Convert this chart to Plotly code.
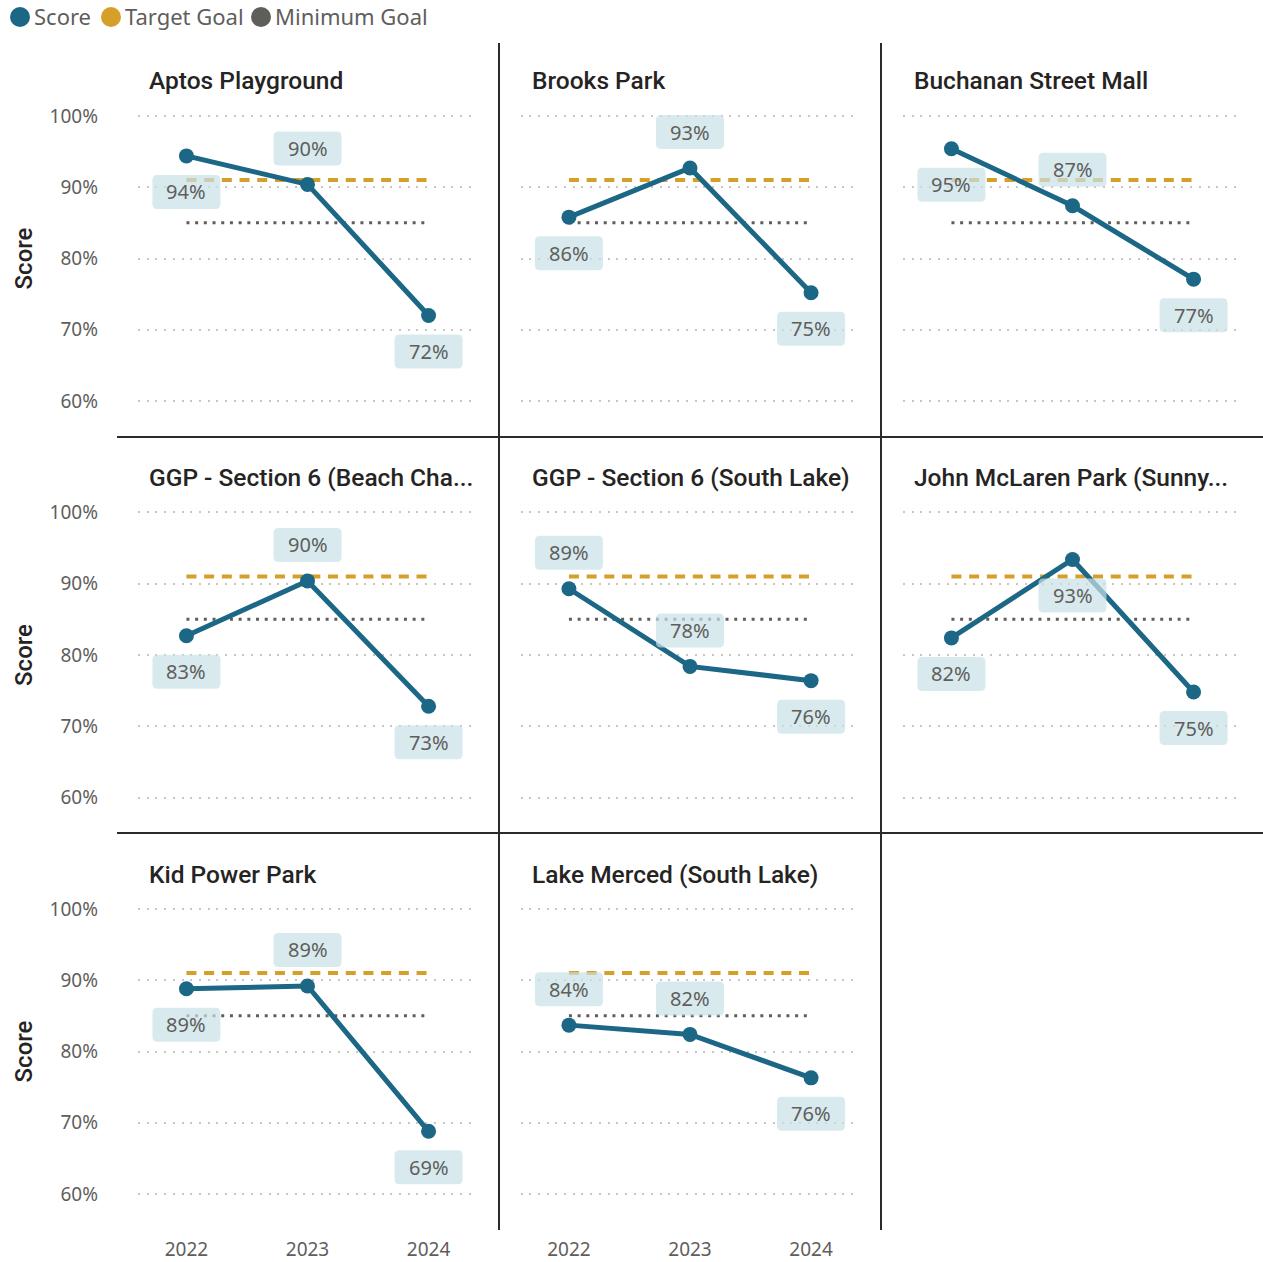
import plotly.graph_objects as go

# ---- data -------------------------------------------------------------
years = ["2022", "2023", "2024"]
park_titles = [
    "Aptos Playground",
    "Brooks Park",
    "Buchanan Street Mall",
    "GGP - Section 6 (Beach Cha...",
    "GGP - Section 6 (South Lake)",
    "John McLaren Park (Sunny...",
    "Kid Power Park",
    "Lake Merced (South Lake)",
]
aptos_playground = [0.944, 0.904, 0.720]
brooks_park = [0.858, 0.927, 0.752]
buchanan_street_mall = [0.954, 0.874, 0.771]
ggp_beach_chalet = [0.827, 0.904, 0.728]
ggp_south_lake = [0.893, 0.784, 0.764]
john_mclaren_park = [0.824, 0.934, 0.748]
kid_power_park = [0.888, 0.892, 0.688]
lake_merced = [0.837, 0.824, 0.763]
target_goal = 0.91
minimum_goal = 0.85
legend_names = ["Score", "Target Goal", "Minimum Goal"]

scores = [aptos_playground, brooks_park, buchanan_street_mall, ggp_beach_chalet,
          ggp_south_lake, john_mclaren_park, kid_power_park, lake_merced]

# data label side per point: +1 above the marker, -1 below
label_side = [
    [-1, 1, -1], [-1, 1, -1], [-1, 1, -1], [-1, 1, -1],
    [1, 1, -1], [-1, -1, -1], [-1, 1, -1], [1, 1, -1],
]

# ---- styling ----------------------------------------------------------
W, H = 1263, 1262
SCORE_C = "#1C6785"
TARGET_C = "#D59F2A"
MIN_C = "#5F5E5A"
GRID_C = "#C8C6C4"
TEXT_C = "#605E5C"
DARK_C = "#252423"
BODY_FONT = "Segoe UI, Noto Sans, sans-serif"
HEAD_FONT = "Roboto, DejaVu Sans, sans-serif"

COL_STEP, ROW_STEP = 382.5, 396.5
Y_RANGE = [0.57, 1.03]

fig = go.Figure()

def label_box(dy):
    w, h, r = 34, 17, 5
    return (f"M {-w + r},{dy - h} L {w - r},{dy - h} Q {w},{dy - h} {w},{dy - h + r} "
            f"L {w},{dy + h - r} Q {w},{dy + h} {w - r},{dy + h} "
            f"L {-w + r},{dy + h} Q {-w},{dy + h} {-w},{dy + h - r} "
            f"L {-w},{dy - h + r} Q {-w},{dy - h} {-w + r},{dy - h} Z")

xi = list(range(len(years)))

for i, (title, vals) in enumerate(zip(park_titles, scores)):
    r, c = divmod(i, 3)
    n = i + 1
    xa, ya = f"x{n}", f"y{n}"
    # goal reference lines
    fig.add_trace(go.Scatter(x=xi, y=[target_goal] * len(xi), mode="lines",
                             name=legend_names[1],
                             line=dict(color=TARGET_C, width=4, dash="10px,7.7px"),
                             xaxis=xa, yaxis=ya, showlegend=False, hoverinfo="skip"))
    fig.add_trace(go.Scatter(x=xi, y=[minimum_goal] * len(xi), mode="lines",
                             name=legend_names[2],
                             line=dict(color=MIN_C, width=3, dash="3px,5.7px"),
                             xaxis=xa, yaxis=ya, showlegend=False, hoverinfo="skip"))
    # score line
    fig.add_trace(go.Scatter(x=xi, y=vals, mode="lines+markers", name=legend_names[0],
                             line=dict(color=SCORE_C, width=5),
                             marker=dict(color=SCORE_C, size=15),
                             xaxis=xa, yaxis=ya, showlegend=False))

    x0 = (138 + COL_STEP * c) / W
    x1 = (477 + COL_STEP * c) / W
    top = 94.6 + ROW_STEP * r
    bot = 422.4 + ROW_STEP * r
    show_x = r == 2
    fig.update_layout(**{
        f"xaxis{n}": dict(domain=[x0, x1], range=[-0.4, 2.4], tickvals=xi,
                          ticktext=years, showticklabels=show_x, showgrid=False,
                          zeroline=False, showline=False, ticks="",
                          ticklabelstandoff=21, automargin=False,
                          tickfont=dict(family=BODY_FONT, size=19, color=TEXT_C),
                          anchor=ya, fixedrange=True),
        f"yaxis{n}": dict(domain=[1 - bot / H, 1 - top / H], range=Y_RANGE,
                          tickvals=[0.6, 0.7, 0.8, 0.9, 1.0], tickformat=".0%",
                          showticklabels=(c == 0), showgrid=True, gridcolor=GRID_C,
                          gridwidth=1.5, griddash="2px,6.7px", zeroline=False,
                          showline=False, ticks="", ticklabelstandoff=39,
                          automargin=False,
                          tickfont=dict(family=BODY_FONT, size=19, color=TEXT_C),
                          title=dict(text="Score" if c == 0 else "", standoff=10,
                                     font=dict(family=HEAD_FONT, size=24, color=DARK_C,
                                               weight=500)),
                          anchor=xa, fixedrange=True),
    })

    # panel title
    fig.add_annotation(text=title, xref="paper", yref="paper",
                       x=(147 + COL_STEP * c) / W, y=1 - (81 + ROW_STEP * r) / H,
                       xanchor="left", yanchor="middle", showarrow=False,
                       font=dict(family=HEAD_FONT, size=24.5, color=DARK_C, weight=500))

    # data labels with rounded background
    for k, v in enumerate(vals):
        dy = 36 * label_side[i][k]
        fig.add_shape(type="path", xref=xa, yref=ya, xsizemode="pixel",
                      ysizemode="pixel", xanchor=xi[k], yanchor=v, path=label_box(dy),
                      fillcolor="rgba(200,225,231,0.7)", line=dict(width=0),
                      layer="above")
        fig.add_annotation(x=xi[k], y=v, xref=xa, yref=ya, yshift=dy,
                           text=f"{round(v * 100)}%", showarrow=False,
                           font=dict(family=BODY_FONT, size=20, color=TEXT_C))

# panel separators
sep = dict(color="#2B2B2B", width=2)
for yy in (437, 833):
    fig.add_shape(type="line", xref="paper", yref="paper", x0=117 / W, x1=1,
                  y0=1 - yy / H, y1=1 - yy / H, line=sep)
for xx in (499, 881):
    fig.add_shape(type="line", xref="paper", yref="paper", x0=xx / W, x1=xx / W,
                  y0=1 - 43 / H, y1=1 - 1230 / H, line=sep)

# legend row across the top: dot + label per series
legend_x = [20, 111, 261]
for name, col, lx in zip(legend_names, (SCORE_C, TARGET_C, MIN_C), legend_x):
    fig.add_shape(type="circle", xref="paper", yref="paper", xsizemode="pixel",
                  ysizemode="pixel", xanchor=lx / W, yanchor=1 - 17 / H,
                  x0=-10, x1=10, y0=-10, y1=10, fillcolor=col, line=dict(width=0))
    fig.add_annotation(text=name, xref="paper", yref="paper", x=(lx + 12) / W,
                       y=1 - 16.5 / H, xanchor="left", yanchor="middle",
                       showarrow=False,
                       font=dict(family=BODY_FONT, size=22, color=TEXT_C))

fig.update_layout(
    width=W, height=H, margin=dict(l=0, r=0, t=0, b=0, autoexpand=False),
    paper_bgcolor="white", plot_bgcolor="white",
    showlegend=False,
)

fig.write_html("out.html")
